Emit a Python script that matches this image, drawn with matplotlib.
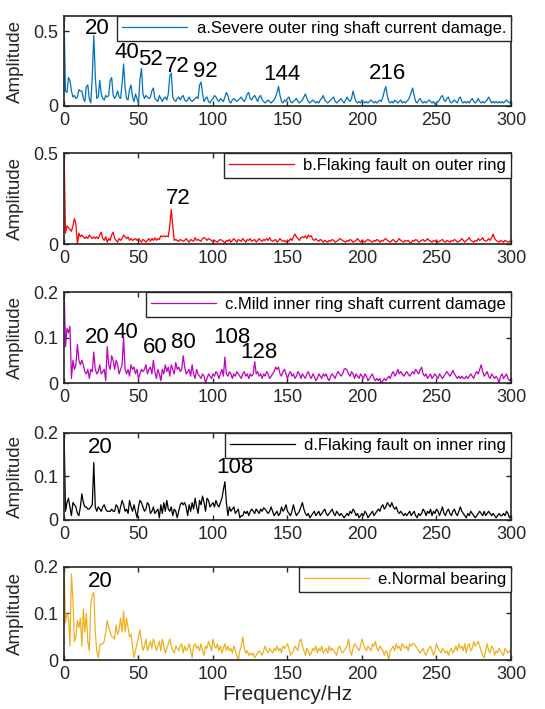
import numpy as np
import matplotlib
matplotlib.use("Agg")
import matplotlib.pyplot as plt

plt.rcParams['font.family'] = ['Liberation Sans', 'DejaVu Sans']

# amplitude spectra, 1 Hz bins from 0 to 300 Hz
amp_a = [
    0.62, 0.10, 0.09, 0.19, 0.17, 0.10, 0.06, 0.07, 0.05, 0.06,
    0.11, 0.10, 0.10, 0.05, 0.03, 0.13, 0.14, 0.05, 0.02, 0.20,
    0.47, 0.20, 0.05, 0.06, 0.17, 0.08, 0.05, 0.04, 0.07, 0.06,
    0.07, 0.17, 0.19, 0.07, 0.05, 0.07, 0.10, 0.06, 0.05, 0.15,
    0.28, 0.12, 0.05, 0.04, 0.11, 0.14, 0.06, 0.03, 0.08, 0.05,
    0.02, 0.18, 0.25, 0.08, 0.05, 0.07, 0.06, 0.05, 0.06, 0.10,
    0.12, 0.05, 0.04, 0.03, 0.07, 0.05, 0.03, 0.05, 0.06, 0.04,
    0.08, 0.20, 0.22, 0.06, 0.04, 0.03, 0.05, 0.06, 0.04, 0.06,
    0.07, 0.04, 0.03, 0.04, 0.06, 0.04, 0.03, 0.04, 0.05, 0.06,
    0.05, 0.14, 0.16, 0.08, 0.03, 0.05, 0.06, 0.03, 0.02, 0.04,
    0.05, 0.07, 0.06, 0.04, 0.03, 0.05, 0.04, 0.03, 0.06, 0.09,
    0.07, 0.03, 0.02, 0.04, 0.05, 0.04, 0.03, 0.04, 0.05, 0.06,
    0.04, 0.03, 0.05, 0.08, 0.09, 0.05, 0.04, 0.06, 0.07, 0.05,
    0.03, 0.06, 0.07, 0.04, 0.03, 0.02, 0.03, 0.04, 0.03, 0.02,
    0.03, 0.04, 0.06, 0.09, 0.13, 0.07, 0.03, 0.02, 0.04, 0.03,
    0.05, 0.06, 0.03, 0.02, 0.03, 0.04, 0.05, 0.03, 0.02, 0.03,
    0.04, 0.06, 0.08, 0.05, 0.03, 0.02, 0.03, 0.04, 0.03, 0.02,
    0.03, 0.02, 0.04, 0.05, 0.07, 0.04, 0.03, 0.02, 0.03, 0.04,
    0.05, 0.06, 0.03, 0.02, 0.03, 0.04, 0.05, 0.03, 0.02, 0.04,
    0.06, 0.04, 0.03, 0.05, 0.10, 0.06, 0.03, 0.02, 0.03, 0.02,
    0.04, 0.03, 0.02, 0.03, 0.02, 0.03, 0.04, 0.03, 0.02, 0.03,
    0.02, 0.03, 0.04, 0.03, 0.06, 0.10, 0.13, 0.07, 0.03, 0.02,
    0.03, 0.02, 0.04, 0.03, 0.02, 0.03, 0.04, 0.02, 0.03, 0.02,
    0.03, 0.04, 0.06, 0.09, 0.12, 0.07, 0.03, 0.02, 0.04, 0.05,
    0.03, 0.02, 0.03, 0.02, 0.03, 0.04, 0.03, 0.02, 0.03, 0.01,
    0.02, 0.03, 0.04, 0.06, 0.07, 0.04, 0.03, 0.05, 0.06, 0.03,
    0.02, 0.03, 0.04, 0.03, 0.02, 0.05, 0.06, 0.03, 0.02, 0.03,
    0.02, 0.03, 0.02, 0.04, 0.05, 0.03, 0.02, 0.03, 0.05, 0.03,
    0.02, 0.03, 0.02, 0.03, 0.04, 0.06, 0.04, 0.02, 0.03, 0.02,
    0.03, 0.02, 0.03, 0.02, 0.03, 0.02, 0.03, 0.04, 0.03, 0.02, 0.03,
]

amp_b = [
    0.55, 0.06, 0.10, 0.09, 0.08, 0.07, 0.10, 0.14, 0.11, 0.00,
    0.06, 0.04, 0.05, 0.04, 0.03, 0.04, 0.03, 0.05, 0.04, 0.03,
    0.04, 0.03, 0.04, 0.03, 0.05, 0.065, 0.03, 0.02, 0.04, 0.01,
    0.03, 0.02, 0.05, 0.065, 0.03, 0.02, 0.01, 0.03, 0.02, 0.03,
    0.05, 0.04, 0.03, 0.04, 0.02, 0.03, 0.02, 0.025, 0.03, 0.02,
    0.03, 0.02, 0.01, 0.025, 0.02, 0.01, 0.02, 0.03, 0.015, 0.03,
    0.02, 0.035, 0.02, 0.03, 0.025, 0.045, 0.04, 0.045, 0.04, 0.045,
    0.04, 0.10, 0.19, 0.10, 0.02, 0.025, 0.02, 0.015, 0.025, 0.02,
    0.015, 0.02, 0.03, 0.02, 0.01, 0.025, 0.02, 0.015, 0.035, 0.02,
    0.025, 0.02, 0.015, 0.03, 0.035, 0.03, 0.02, 0.03, 0.025, 0.02,
    0.01, 0.02, 0.015, 0.01, 0.02, 0.025, 0.02, 0.015, 0.005, 0.02,
    0.015, 0.025, 0.01, 0.02, 0.03, 0.02, 0.01, 0.025, 0.02, 0.015,
    0.03, 0.02, 0.01, 0.025, 0.02, 0.03, 0.015, 0.02, 0.025, 0.01,
    0.02, 0.03, 0.02, 0.015, 0.025, 0.02, 0.03, 0.02, 0.035, 0.02,
    0.015, 0.02, 0.025, 0.01, 0.02, 0.03, 0.02, 0.015, 0.02, 0.01,
    0.02, 0.015, 0.03, 0.02, 0.04, 0.055, 0.04, 0.03, 0.02, 0.035,
    0.04, 0.035, 0.045, 0.03, 0.05, 0.04, 0.045, 0.025, 0.02, 0.03,
    0.02, 0.015, 0.025, 0.02, 0.01, 0.02, 0.015, 0.01, 0.02, 0.015,
    0.025, 0.02, 0.01, 0.015, 0.02, 0.03, 0.025, 0.02, 0.015, 0.01,
    0.02, 0.015, 0.025, 0.02, 0.01, 0.015, 0.02, 0.03, 0.02, 0.01,
    0.02, 0.015, 0.01, 0.02, 0.025, 0.02, 0.015, 0.01, 0.02, 0.015,
    0.025, 0.02, 0.01, 0.02, 0.015, 0.025, 0.03, 0.02, 0.015, 0.01,
    0.02, 0.025, 0.015, 0.01, 0.02, 0.03, 0.02, 0.015, 0.01, 0.02,
    0.015, 0.02, 0.01, 0.005, 0.02, 0.015, 0.025, 0.02, 0.01, 0.015,
    0.02, 0.025, 0.015, 0.02, 0.03, 0.02, 0.015, 0.01, 0.02, 0.015,
    0.02, 0.01, 0.015, 0.02, 0.025, 0.015, 0.01, 0.02, 0.015, 0.01,
    0.02, 0.015, 0.025, 0.02, 0.01, 0.015, 0.02, 0.03, 0.02, 0.01,
    0.02, 0.025, 0.035, 0.02, 0.015, 0.01, 0.02, 0.015, 0.03, 0.02,
    0.025, 0.035, 0.02, 0.015, 0.02, 0.03, 0.02, 0.035, 0.055, 0.03,
    0.02, 0.015, 0.01, 0.02, 0.015, 0.01, 0.02, 0.015, 0.01, 0.015, 0.01,
]

amp_c = [
    0.22, 0.08, 0.12, 0.11, 0.125, 0.01, 0.05, 0.03, 0.04, 0.085,
    0.05, 0.04, 0.05, 0.04, 0.025, 0.02, 0.03, 0.01, 0.03, 0.025,
    0.068, 0.03, 0.02, 0.025, 0.04, 0.02, 0.025, 0.03, 0.005, 0.08,
    0.04, 0.03, 0.06, 0.05, 0.03, 0.05, 0.04, 0.02, 0.03, 0.04,
    0.10, 0.03, 0.02, 0.03, 0.015, 0.04, 0.03, 0.035, 0.02, 0.03,
    0.01, 0.02, 0.03, 0.025, 0.03, 0.04, 0.02, 0.03, 0.035, 0.02,
    0.05, 0.025, 0.01, 0.03, 0.02, 0.005, 0.03, 0.02, 0.04, 0.025,
    0.035, 0.015, 0.04, 0.03, 0.02, 0.045, 0.03, 0.035, 0.025, 0.03,
    0.06, 0.035, 0.02, 0.025, 0.03, 0.015, 0.04, 0.02, 0.01, 0.03,
    0.02, 0.015, 0.01, 0.02, 0.015, 0.0, 0.01, 0.02, 0.015, 0.01,
    0.02, 0.015, 0.025, 0.02, 0.01, 0.02, 0.03, 0.015, 0.057, 0.02,
    0.015, 0.025, 0.02, 0.01, 0.02, 0.015, 0.025, 0.02, 0.015, 0.01,
    0.02, 0.025, 0.015, 0.02, 0.01, 0.02, 0.015, 0.02, 0.047, 0.02,
    0.025, 0.015, 0.02, 0.01, 0.02, 0.015, 0.025, 0.02, 0.01, 0.015,
    0.02, 0.025, 0.035, 0.03, 0.035, 0.02, 0.015, 0.025, 0.03, 0.02,
    0.01, 0.02, 0.025, 0.015, 0.02, 0.01, 0.015, 0.025, 0.02, 0.01,
    0.02, 0.015, 0.01, 0.02, 0.025, 0.015, 0.01, 0.02, 0.015, 0.005,
    0.01, 0.02, 0.015, 0.01, 0.02, 0.015, 0.02, 0.01, 0.005, 0.015,
    0.02, 0.015, 0.01, 0.02, 0.025, 0.02, 0.015, 0.02, 0.03, 0.032,
    0.028, 0.02, 0.015, 0.025, 0.02, 0.01, 0.02, 0.015, 0.01, 0.02,
    0.015, 0.01, 0.02, 0.015, 0.005, 0.01, 0.015, 0.02, 0.01, 0.005,
    0.01, 0.005, 0.01, 0.0, 0.005, 0.01, 0.005, 0.01, 0.015, 0.01,
    0.02, 0.025, 0.015, 0.02, 0.03, 0.02, 0.025, 0.02, 0.015, 0.02,
    0.025, 0.02, 0.015, 0.02, 0.025, 0.02, 0.03, 0.025, 0.02, 0.028,
    0.035, 0.02, 0.015, 0.02, 0.01, 0.015, 0.02, 0.01, 0.015, 0.02,
    0.015, 0.01, 0.02, 0.015, 0.01, 0.015, 0.02, 0.025, 0.02, 0.015,
    0.02, 0.028, 0.02, 0.015, 0.01, 0.015, 0.01, 0.015, 0.01, 0.01,
    0.015, 0.01, 0.015, 0.02, 0.015, 0.01, 0.02, 0.025, 0.02, 0.03,
    0.04, 0.025, 0.015, 0.02, 0.025, 0.015, 0.01, 0.02, 0.015, 0.01,
    0.015, 0.01, 0.0, 0.015, 0.02, 0.01, 0.015, 0.02, 0.01, 0.005, 0.01,
]

amp_d = [
    0.22, 0.02, 0.04, 0.05, 0.03, 0.01, 0.04, 0.035, 0.03, 0.015,
    0.01, 0.03, 0.06, 0.04, 0.03, 0.03, 0.025, 0.025, 0.03, 0.035,
    0.132, 0.03, 0.02, 0.03, 0.025, 0.02, 0.03, 0.035, 0.025, 0.02,
    0.02, 0.02, 0.025, 0.02, 0.02, 0.035, 0.03, 0.015, 0.03, 0.045,
    0.035, 0.02, 0.025, 0.015, 0.045, 0.03, 0.02, 0.035, 0.02, 0.005,
    0.03, 0.045, 0.04, 0.03, 0.02, 0.025, 0.04, 0.035, 0.015, 0.02,
    0.03, 0.015, 0.02, 0.025, 0.005, 0.035, 0.015, 0.04, 0.02, 0.045,
    0.025, 0.02, 0.03, 0.01, 0.025, 0.02, 0.005, 0.02, 0.035, 0.04,
    0.035, 0.04, 0.03, 0.01, 0.035, 0.02, 0.04, 0.025, 0.05, 0.03,
    0.015, 0.045, 0.035, 0.055, 0.04, 0.02, 0.05, 0.045, 0.03, 0.035,
    0.04, 0.03, 0.045, 0.035, 0.03, 0.04, 0.05, 0.07, 0.088, 0.04,
    0.01, 0.03, 0.02, 0.025, 0.03, 0.015, 0.02, 0.025, 0.005, 0.01,
    0.01, 0.02, 0.015, 0.02, 0.01, 0.02, 0.025, 0.02, 0.015, 0.025,
    0.02, 0.015, 0.025, 0.02, 0.028, 0.025, 0.02, 0.015, 0.02, 0.03,
    0.02, 0.01, 0.015, 0.02, 0.01, 0.015, 0.03, 0.02, 0.025, 0.035,
    0.02, 0.015, 0.01, 0.02, 0.035, 0.02, 0.01, 0.015, 0.02, 0.03,
    0.04, 0.025, 0.015, 0.01, 0.015, 0.005, 0.01, 0.015, 0.02, 0.01,
    0.015, 0.02, 0.01, 0.015, 0.02, 0.025, 0.015, 0.01, 0.015, 0.02,
    0.025, 0.015, 0.01, 0.02, 0.015, 0.01, 0.015, 0.01, 0.005, 0.01,
    0.015, 0.01, 0.02, 0.015, 0.025, 0.02, 0.01, 0.015, 0.005, 0.01,
    0.015, 0.01, 0.02, 0.015, 0.005, 0.01, 0.015, 0.02, 0.01, 0.015,
    0.02, 0.025, 0.02, 0.03, 0.035, 0.025, 0.03, 0.04, 0.035, 0.03,
    0.04, 0.03, 0.025, 0.03, 0.02, 0.015, 0.02, 0.015, 0.01, 0.015,
    0.01, 0.015, 0.02, 0.01, 0.015, 0.02, 0.01, 0.005, 0.015, 0.01,
    0.015, 0.025, 0.02, 0.01, 0.02, 0.015, 0.025, 0.01, 0.02, 0.015,
    0.025, 0.02, 0.01, 0.02, 0.03, 0.015, 0.01, 0.02, 0.025, 0.015,
    0.01, 0.02, 0.025, 0.015, 0.01, 0.02, 0.03, 0.02, 0.015, 0.01,
    0.005, 0.015, 0.01, 0.02, 0.015, 0.01, 0.005, 0.01, 0.015, 0.02,
    0.015, 0.01, 0.02, 0.01, 0.015, 0.02, 0.015, 0.01, 0.015, 0.01,
    0.005, 0.01, 0.015, 0.01, 0.01, 0.015, 0.01, 0.02, 0.015, 0.005, 0.01,
]

amp_e = [
    0.22, 0.08, 0.10, 0.09, 0.03, 0.185, 0.13, 0.04, 0.05, 0.085,
    0.07, 0.09, 0.03, 0.11, 0.06, 0.10, 0.04, 0.02, 0.12, 0.14,
    0.145, 0.06, 0.02, 0.005, 0.03, 0.035, 0.035, 0.04, 0.06, 0.085,
    0.07, 0.06, 0.05, 0.05, 0.045, 0.075, 0.055, 0.065, 0.09, 0.06,
    0.105, 0.06, 0.09, 0.07, 0.05, 0.055, 0.03, 0.005, 0.02, 0.035,
    0.05, 0.065, 0.04, 0.02, 0.03, 0.045, 0.02, 0.03, 0.04, 0.025,
    0.045, 0.035, 0.02, 0.03, 0.04, 0.02, 0.045, 0.03, 0.015, 0.025,
    0.035, 0.045, 0.03, 0.02, 0.015, 0.03, 0.025, 0.02, 0.03, 0.035,
    0.015, 0.03, 0.02, 0.025, 0.035, 0.02, 0.005, 0.03, 0.035, 0.025,
    0.03, 0.02, 0.035, 0.02, 0.01, 0.03, 0.025, 0.04, 0.03, 0.02,
    0.045, 0.03, 0.025, 0.035, 0.02, 0.03, 0.015, 0.025, 0.035, 0.02,
    0.03, 0.02, 0.025, 0.015, 0.03, 0.02, 0.01, 0.0, 0.02, 0.03,
    0.05, 0.025, 0.015, 0.02, 0.01, 0.015, 0.01, 0.015, 0.005, 0.01,
    0.015, 0.02, 0.015, 0.01, 0.02, 0.03, 0.02, 0.015, 0.025, 0.02,
    0.015, 0.025, 0.02, 0.03, 0.02, 0.025, 0.015, 0.03, 0.025, 0.03,
    0.035, 0.025, 0.01, 0.015, 0.02, 0.03, 0.025, 0.02, 0.04, 0.045,
    0.03, 0.02, 0.01, 0.025, 0.02, 0.01, 0.015, 0.025, 0.02, 0.03,
    0.015, 0.025, 0.02, 0.03, 0.015, 0.02, 0.025, 0.015, 0.03, 0.02,
    0.025, 0.02, 0.015, 0.01, 0.025, 0.03, 0.02, 0.015, 0.02, 0.025,
    0.03, 0.045, 0.02, 0.01, 0.025, 0.035, 0.03, 0.025, 0.02, 0.03,
    0.045, 0.035, 0.025, 0.02, 0.03, 0.025, 0.02, 0.035, 0.03, 0.04,
    0.025, 0.02, 0.03, 0.025, 0.02, 0.01, 0.02, 0.015, 0.0, 0.02,
    0.025, 0.03, 0.02, 0.035, 0.025, 0.03, 0.02, 0.035, 0.03, 0.025,
    0.03, 0.02, 0.035, 0.03, 0.035, 0.035, 0.03, 0.025, 0.02, 0.015,
    0.02, 0.025, 0.015, 0.01, 0.02, 0.025, 0.03, 0.02, 0.01, 0.02,
    0.035, 0.025, 0.02, 0.015, 0.025, 0.02, 0.015, 0.02, 0.01, 0.02,
    0.025, 0.015, 0.02, 0.03, 0.02, 0.035, 0.025, 0.03, 0.02, 0.035,
    0.015, 0.03, 0.035, 0.02, 0.025, 0.04, 0.03, 0.035, 0.04, 0.03,
    0.02, 0.01, 0.005, 0.02, 0.035, 0.02, 0.015, 0.03, 0.025, 0.01,
    0.02, 0.015, 0.025, 0.02, 0.015, 0.01, 0.025, 0.02, 0.015, 0.02, 0.015,
]

spectra = [amp_a, amp_b, amp_c, amp_d, amp_e]
for s in spectra:
    assert len(s) == 301, len(s)
freq = np.arange(301)

names = ['a.Severe outer ring shaft current damage.',
         'b.Flaking fault on outer ring',
         'c.Mild inner ring shaft current damage',
         'd.Flaking fault on inner ring',
         'e.Normal bearing']
colors = ['#0072BD', '#FF0000', '#C000C0', '#000000', '#EDB120']
ymax = [0.6, 0.5, 0.2, 0.2, 0.2]
yticks = [[0, 0.5], [0, 0.5], [0, 0.1, 0.2], [0, 0.1, 0.2], [0, 0.1, 0.2]]

# characteristic frequencies marked on each spectrum
peak_labels = [[20, 40, 52, 72, 92, 144, 216],
               [72],
               [20, 40, 60, 80, 108, 128],
               [20, 108],
               [20]]
# where each label sits (x, y) in data units
label_pos = [[(22, 0.45), (42, 0.29), (58, 0.24), (76, 0.195), (95, 0.163),
              (146, 0.142), (217, 0.148)],
             [(77, 0.19)],
             [(22, 0.076), (41.5, 0.089), (61, 0.054), (80, 0.065),
              (113, 0.076), (130.5, 0.043)],
             [(24.5, 0.142), (115, 0.096)],
             [(24.5, 0.147)]]

# axes boxes in figure fractions [left, bottom, width, height]
boxes = [[0.1174, 0.8505, 0.8202, 0.1269],
         [0.1174, 0.6558, 0.8202, 0.1283],
         [0.1174, 0.4598, 0.8202, 0.1283],
         [0.1174, 0.2666, 0.8202, 0.1227],
         [0.1174, 0.0691, 0.8202, 0.1312]]

fig = plt.figure(figsize=(5.45, 7.09), dpi=100)
edge = '#262626'

for i in range(5):
    ax = fig.add_axes(boxes[i])
    ax.plot(freq, spectra[i], color=colors[i], lw=0.9, label=names[i])
    ax.set_xlim(0, 300)
    ax.set_ylim(0, ymax[i])
    ax.set_xticks(np.arange(0, 301, 50))
    ax.set_yticks(yticks[i])
    ax.set_yticklabels(['0' if t == 0 else '%g' % t for t in yticks[i]])
    ax.tick_params(direction='in', top=True, right=True, length=3.5,
                   width=1.0, labelsize=13, colors=edge, pad=4)
    for sp in ax.spines.values():
        sp.set_linewidth(1.2)
        sp.set_color(edge)
    ax.set_ylabel('Amplitude', fontsize=13.5, color=edge)
    ax.yaxis.set_label_coords(-0.09, 0.5)

    for lab, (tx, ty) in zip(peak_labels[i], label_pos[i]):
        ax.text(tx, ty, str(lab), fontsize=16, ha='center', va='bottom',
                color='black')

    leg = ax.legend(loc='upper right', borderaxespad=0, fontsize=12,
                    handlelength=3.9, handletextpad=0.55, borderpad=0.3,
                    fancybox=False, framealpha=1, edgecolor=edge)
    leg.get_frame().set_linewidth(1.0)

ax.set_xlabel('Frequency/Hz', fontsize=15, color=edge, labelpad=2)

fig.savefig('out.png', dpi=100)
